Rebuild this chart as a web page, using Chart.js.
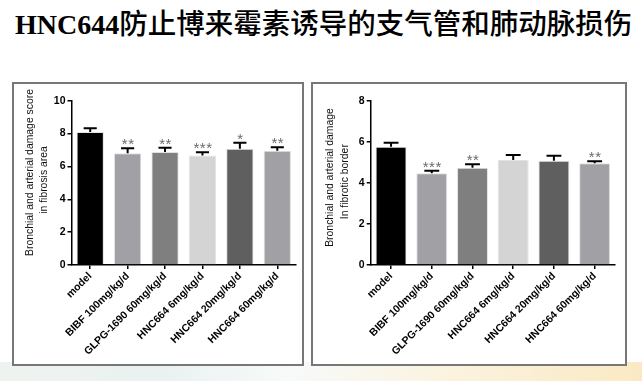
<!DOCTYPE html>
<html>
<head>
<meta charset="utf-8">
<script src="https://cdn.jsdelivr.net/npm/chart.js@4"></script>
<style>
  html, body { margin: 0; padding: 0; }
  body {
    width: 642px; height: 381px; position: relative; overflow: hidden;
    background: #fff;
  }
  .deco {
    position: absolute; left: 0; top: 362px; width: 642px; height: 19px;
    background: linear-gradient(to right, #eef3ef 0%, #e9f2f1 25%, #f7faf9 45%, #fbf3df 70%, #fae9c3 100%);
  }
  .title {
    position: absolute; left: 15px; top: 5px; white-space: nowrap;
    font-size: 28.5px; color: #000; line-height: 34px;
  }
  .title .lat { font-family: "Liberation Serif", serif; font-weight: bold; font-size: 28px; }
  .title .cjk { font-family: "Noto Sans CJK SC", sans-serif; font-weight: 500; }
  .box {
    position: absolute; top: 82px; height: 284px; box-sizing: border-box;
    border: 2px solid #777; background: #fff;
  }
  .box canvas { display: block; }
</style>
</head>
<body>
<div class="deco"></div>
<div class="title"><span class="lat">HNC644</span><span class="cjk">防止博来霉素诱导的支气管和肺动脉损伤</span></div>
<div class="box" style="left:12px; width:292px;"><canvas id="c1" width="288" height="280"></canvas></div>
<div class="box" style="left:311px; width:316px;"><canvas id="c2" width="312" height="280"></canvas></div>

<script>
// groups on the x axis
const groups = ['model', 'BIBF 100mg/kg/d', 'GLPG-1690 60mg/kg/d', 'HNC664 6mg/kg/d', 'HNC664 20mg/kg/d', 'HNC664 60mg/kg/d'];
const barColors = ['#000000', '#a1a1a5', '#7f7f7f', '#d4d4d4', '#5f5f5f', '#a1a1a5'];

// left panel: fibrosis area
const scoreArea = [8.1, 6.8, 6.88, 6.66, 7.08, 6.96];
const errArea = [0.22, 0.3, 0.25, 0.21, 0.36, 0.2];
const starsArea = ['', '**', '**', '***', '*', '**'];
const yTicksArea = [0, 2, 4, 6, 8, 10];

// right panel: fibrotic border
const scoreBorder = [5.77, 4.47, 4.75, 5.12, 5.09, 4.96];
const errBorder = [0.19, 0.13, 0.17, 0.25, 0.24, 0.1];
const starsBorder = ['', '***', '**', '', '', '**'];
const yTicksBorder = [0, 2, 4, 6, 8];

const tickFont = { family: 'Liberation Sans', size: 10.5, weight: 'bold' };

// error bars + stars, drawn from the y scale
const errPlugin = {
  id: 'errbars',
  afterDatasetsDraw(chart) {
    const o = chart.options.plugins.errbars;
    const ctx = chart.ctx;
    const y = chart.scales.y;
    const meta = chart.getDatasetMeta(0);
    ctx.save();
    meta.data.forEach((bar, i) => {
      const v = chart.data.datasets[0].data[i];
      const top = y.getPixelForValue(v + o.err[i]);
      const base = y.getPixelForValue(v);
      const half = bar.width * 0.24;
      ctx.strokeStyle = '#000';
      ctx.lineWidth = 2;
      ctx.beginPath();
      ctx.moveTo(bar.x, base);
      ctx.lineTo(bar.x, top);
      ctx.moveTo(bar.x - half, top);
      ctx.lineTo(bar.x + half, top);
      ctx.stroke();
      if (o.stars[i]) {
        ctx.fillStyle = '#6a6a6a';
        ctx.font = '15px "Liberation Sans"';
        ctx.letterSpacing = '0.5px';
        ctx.textAlign = 'center';
        ctx.textBaseline = 'alphabetic';
        ctx.fillText(o.stars[i], bar.x + 0.5, top + 1);
      }
    });
    ctx.restore();
  }
};

// two-line rotated y title
const yTitlePlugin = {
  id: 'ytitle',
  afterDraw(chart) {
    const o = chart.options.plugins.ytitle;
    const ctx = chart.ctx;
    ctx.save();
    ctx.fillStyle = '#111';
    ctx.font = '10.4px "Liberation Sans"';
    ctx.textAlign = 'center';
    ctx.textBaseline = 'middle';
    o.lines.forEach((t, i) => {
      ctx.save();
      ctx.translate(o.x[i], o.y[i]);
      ctx.rotate(-Math.PI / 2);
      ctx.fillText(t, 0, 0);
      ctx.restore();
    });
    ctx.restore();
  }
};

function makeChart(id, values, errs, stars, ticks, opts) {
  new Chart(document.getElementById(id), {
    type: 'bar',
    data: {
      labels: groups,
      datasets: [{
        data: values,
        backgroundColor: barColors,
        borderColor: '#e2e2e2',
        borderWidth: 1,
        barPercentage: opts.barPct,
        categoryPercentage: 1
      }]
    },
    options: {
      responsive: false,
      animation: false,
      layout: { padding: { left: 0, top: opts.top, right: opts.right, bottom: 0 } },
      plugins: {
        legend: { display: false },
        tooltip: { enabled: false },
        errbars: { err: errs, stars: stars },
        ytitle: opts.ytitle
      },
      scales: {
        x: {
          afterFit(s) { s.height = opts.xh; },
          grid: { display: true, drawOnChartArea: false, offset: false, color: '#000', lineWidth: 1.5, tickLength: 4 },
          border: { display: true, color: '#000', width: 1.5 },
          ticks: { color: '#000', font: tickFont, minRotation: 45, maxRotation: 45, autoSkip: false, padding: 1 }
        },
        y: {
          min: 0,
          max: ticks[ticks.length - 1],
          afterFit(s) { s.width = opts.yw; },
          afterBuildTicks(s) { s.ticks = ticks.map(v => ({ value: v })); },
          grid: { display: true, drawOnChartArea: false, color: '#000', lineWidth: 1.5, tickLength: 4 },
          border: { display: true, color: '#000', width: 1.5 },
          ticks: { color: '#000', font: tickFont, padding: 2 }
        }
      }
    },
    plugins: [errPlugin, yTitlePlugin]
  });
}

makeChart('c1', scoreArea, errArea, starsArea, yTicksArea, {
  barPct: 0.73, top: 16.7, right: 6, xh: 99, yw: 57.5,
  ytitle: { lines: ['Bronchial and arterial damage score', 'in fibrosis area'], x: [16, 30], y: [88.5, 96] }
});
makeChart('c2', scoreBorder, errBorder, starsBorder, yTicksBorder, {
  barPct: 0.76, top: 17, right: 10, xh: 99, yw: 57.7,
  ytitle: { lines: ['Bronchial and arterial damage', 'In fibrotic border'], x: [17, 32], y: [93.5, 97.7] }
});
</script>
</body>
</html>
